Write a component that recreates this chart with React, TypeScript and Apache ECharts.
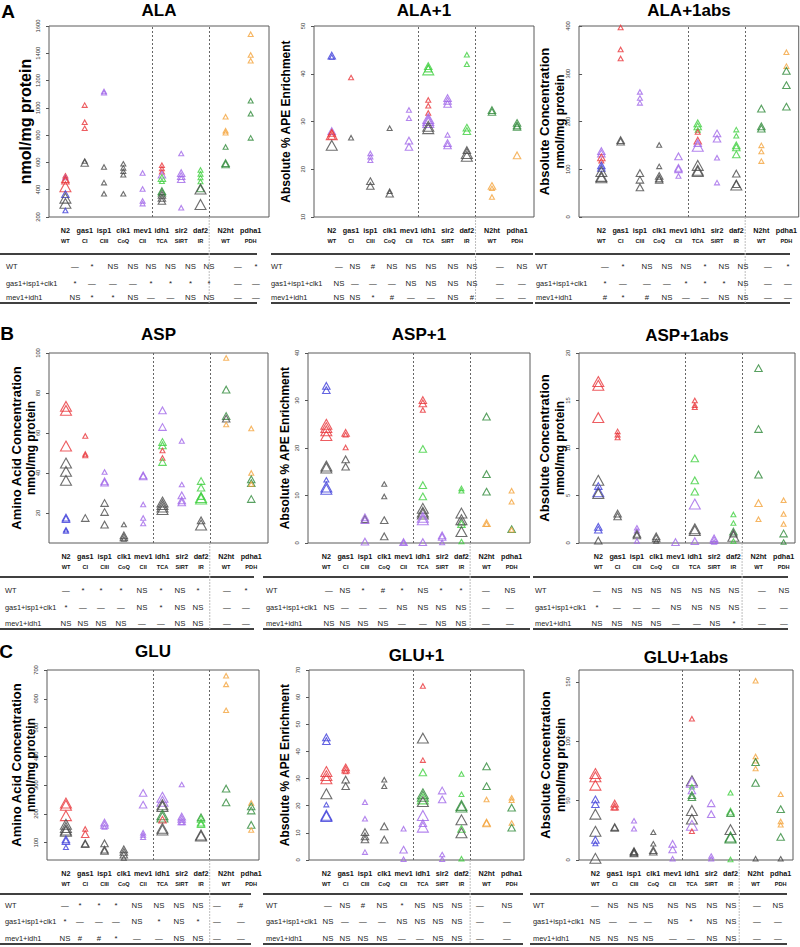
import React, { useEffect, useRef } from "react";
import * as echarts from "echarts";

// ---------- categories / labels ----------
const CATS = ["N2", "gas1", "isp1", "clk1", "mev1", "idh1", "sir2", "daf2", "N2ht", "pdha1"];
const SUBS = ["WT", "CI", "CIII", "CoQ", "CII", "TCA", "SIRT", "IR", "WT", "PDH"];
const XPOS = [1, 2, 3, 4, 5, 6, 7, 8, 9.3, 10.6];
const SEP = [5.5, 8.45];
const ROW_LABELS = ["WT", "gas1+isp1+clk1", "mev1+idh1"];

// ---------- y ticks ----------
const YT_ALA = [200, 400, 600, 800, 1000, 1200, 1400, 1600];
const YT_ALA1 = [10, 20, 30, 40, 50];
const YT_ALA1ABS = [0, 100, 200, 300, 400];
const YT_ASP = [20, 40, 60, 80, 100];
const YT_ASP1 = [0, 10, 20, 30, 40];
const YT_ASP1ABS = [0, 5, 10, 15, 20];
const YT_GLU = [100, 200, 300, 400, 500, 600, 700];
const YT_GLU1 = [0, 10, 20, 30, 40, 50, 60, 70];
const YT_GLU1ABS = [0, 50, 100, 150];

// ---------- points: [category, value, sizeClass(1..3), colorKey] ----------
type Pt = [string, number, number, string];

const ALA_PTS: Pt[] = [
  ["N2", 502, 1, "r"], ["N2", 490, 1, "p"], ["N2", 478, 2, "r"], ["N2", 466, 2, "r"], ["N2", 422, 3, "r"], ["N2", 368, 2, "b"], ["N2", 338, 3, "k"], ["N2", 300, 3, "k"], ["N2", 248, 1, "b"],
  ["gas1", 1020, 1, "r"], ["gas1", 895, 1, "r"], ["gas1", 850, 1, "r"], ["gas1", 610, 1, "k"], ["gas1", 596, 2, "k"],
  ["isp1", 1120, 1, "p"], ["isp1", 1110, 1, "p"], ["isp1", 567, 1, "k"], ["isp1", 452, 1, "k"], ["isp1", 371, 1, "k"],
  ["clk1", 590, 1, "k"], ["clk1", 560, 1, "k"], ["clk1", 535, 1, "k"], ["clk1", 510, 1, "k"], ["clk1", 370, 1, "k"],
  ["mev1", 523, 1, "p"], ["mev1", 405, 1, "p"], ["mev1", 318, 1, "p"], ["mev1", 298, 1, "p"],
  ["idh1", 580, 1, "r"], ["idh1", 555, 1, "r"], ["idh1", 532, 1, "r"], ["idh1", 510, 2, "p"], ["idh1", 485, 2, "g"], ["idh1", 462, 1, "g"], ["idh1", 390, 2, "d"], ["idh1", 378, 2, "d"], ["idh1", 362, 2, "k"], ["idh1", 340, 2, "k"], ["idh1", 318, 2, "k"],
  ["sir2", 665, 1, "p"], ["sir2", 522, 2, "p"], ["sir2", 500, 2, "p"], ["sir2", 478, 2, "p"], ["sir2", 268, 1, "p"],
  ["daf2", 545, 1, "g"], ["daf2", 515, 1, "g"], ["daf2", 490, 1, "g"], ["daf2", 460, 1, "g"], ["daf2", 410, 2, "d"], ["daf2", 405, 3, "k"], ["daf2", 292, 3, "k"],
  ["N2ht", 935, 1, "o"], ["N2ht", 832, 1, "o"], ["N2ht", 818, 1, "o"], ["N2ht", 713, 1, "d"], ["N2ht", 595, 2, "d"], ["N2ht", 585, 2, "d"],
  ["pdha1", 1540, 1, "o"], ["pdha1", 1388, 1, "o"], ["pdha1", 1345, 1, "o"], ["pdha1", 1052, 1, "d"], ["pdha1", 957, 1, "d"], ["pdha1", 780, 1, "d"],
];

const ALA1_PTS: Pt[] = [
  ["N2", 43.8, 2, "b"], ["N2", 43.5, 1, "b"], ["N2", 28.0, 2, "p"], ["N2", 27.6, 2, "r"], ["N2", 27.2, 3, "r"], ["N2", 27.0, 2, "r"], ["N2", 25.0, 3, "k"],
  ["gas1", 39.2, 1, "r"], ["gas1", 26.6, 1, "k"],
  ["isp1", 23.3, 1, "p"], ["isp1", 22.6, 1, "p"], ["isp1", 21.9, 1, "p"], ["isp1", 17.5, 2, "k"], ["isp1", 16.5, 2, "k"],
  ["clk1", 28.6, 1, "k"], ["clk1", 15.4, 1, "k"], ["clk1", 14.9, 2, "k"],
  ["mev1", 32.4, 1, "p"], ["mev1", 30.7, 1, "p"], ["mev1", 26.0, 2, "p"], ["mev1", 24.7, 2, "p"],
  ["idh1", 41.6, 2, "g"], ["idh1", 41.1, 2, "g"], ["idh1", 40.8, 3, "g"], ["idh1", 34.5, 1, "r"], ["idh1", 33.3, 1, "r"], ["idh1", 31.8, 1, "r"], ["idh1", 30.6, 3, "p"], ["idh1", 30.2, 3, "p"], ["idh1", 29.8, 3, "p"], ["idh1", 29.0, 3, "k"], ["idh1", 28.5, 3, "k"],
  ["sir2", 34.9, 2, "p"], ["sir2", 34.3, 2, "p"], ["sir2", 33.7, 2, "p"], ["sir2", 27.2, 1, "p"], ["sir2", 25.5, 2, "p"], ["sir2", 25.0, 2, "p"],
  ["daf2", 44.0, 1, "g"], ["daf2", 42.0, 1, "g"], ["daf2", 28.7, 2, "g"], ["daf2", 28.0, 2, "g"], ["daf2", 24.0, 2, "k"], ["daf2", 23.3, 3, "k"], ["daf2", 22.7, 3, "k"],
  ["N2ht", 32.4, 2, "d"], ["N2ht", 32.0, 2, "d"], ["N2ht", 16.5, 2, "o"], ["N2ht", 16.0, 1, "o"], ["N2ht", 14.2, 1, "o"],
  ["pdha1", 29.7, 2, "d"], ["pdha1", 29.2, 2, "d"], ["pdha1", 28.9, 2, "d"], ["pdha1", 22.9, 2, "o"],
];

const ALA1ABS_PTS: Pt[] = [
  ["N2", 138, 2, "p"], ["N2", 133, 2, "p"], ["N2", 125, 2, "r"], ["N2", 118, 1, "r"], ["N2", 108, 2, "b"], ["N2", 103, 2, "b"], ["N2", 95, 3, "k"], ["N2", 85, 3, "k"], ["N2", 82, 3, "k"],
  ["gas1", 397, 1, "r"], ["gas1", 351, 1, "r"], ["gas1", 332, 1, "r"], ["gas1", 161, 2, "k"], ["gas1", 158, 2, "k"],
  ["isp1", 262, 1, "p"], ["isp1", 249, 1, "p"], ["isp1", 239, 1, "p"], ["isp1", 92, 2, "k"], ["isp1", 78, 2, "k"], ["isp1", 62, 2, "k"],
  ["clk1", 151, 1, "k"], ["clk1", 106, 1, "k"], ["clk1", 86, 2, "k"], ["clk1", 81, 2, "k"], ["clk1", 78, 2, "k"],
  ["mev1", 127, 2, "p"], ["mev1", 103, 2, "p"], ["mev1", 100, 2, "p"], ["mev1", 86, 1, "p"],
  ["idh1", 196, 2, "g"], ["idh1", 190, 2, "g"], ["idh1", 182, 1, "g"], ["idh1", 178, 1, "r"], ["idh1", 160, 2, "r"], ["idh1", 155, 2, "p"], ["idh1", 148, 3, "p"], ["idh1", 108, 3, "k"], ["idh1", 98, 3, "k"], ["idh1", 95, 3, "k"],
  ["sir2", 175, 2, "p"], ["sir2", 164, 2, "p"], ["sir2", 124, 1, "p"], ["sir2", 72, 1, "p"],
  ["daf2", 183, 1, "g"], ["daf2", 170, 1, "g"], ["daf2", 150, 2, "g"], ["daf2", 146, 2, "g"], ["daf2", 131, 2, "g"], ["daf2", 91, 2, "k"], ["daf2", 69, 2, "k"], ["daf2", 67, 3, "k"],
  ["N2ht", 227, 2, "d"], ["N2ht", 190, 2, "d"], ["N2ht", 185, 2, "d"], ["N2ht", 150, 1, "o"], ["N2ht", 137, 1, "o"], ["N2ht", 117, 1, "o"],
  ["pdha1", 345, 1, "o"], ["pdha1", 316, 1, "o"], ["pdha1", 306, 2, "d"], ["pdha1", 276, 2, "d"], ["pdha1", 231, 2, "d"],
];

const ASP_PTS: Pt[] = [
  ["N2", 73.3, 3, "r"], ["N2", 71.3, 3, "r"], ["N2", 53.5, 3, "r"], ["N2", 45.0, 3, "k"], ["N2", 40.8, 3, "k"], ["N2", 36.3, 3, "k"], ["N2", 17.7, 2, "b"], ["N2", 17.0, 2, "b"], ["N2", 11.6, 1, "b"], ["N2", 11.0, 1, "b"],
  ["gas1", 58.5, 1, "r"], ["gas1", 49.5, 1, "r"], ["gas1", 48.8, 1, "r"], ["gas1", 17.5, 2, "k"],
  ["isp1", 40.5, 1, "p"], ["isp1", 35.8, 2, "p"], ["isp1", 35.2, 2, "p"], ["isp1", 25.0, 2, "k"], ["isp1", 20.5, 2, "k"], ["isp1", 14.2, 2, "k"],
  ["clk1", 14.2, 1, "k"], ["clk1", 8.8, 2, "k"], ["clk1", 7.8, 2, "k"], ["clk1", 7.0, 1, "k"],
  ["mev1", 38.8, 2, "p"], ["mev1", 38.3, 2, "p"], ["mev1", 24.3, 1, "p"], ["mev1", 17.5, 1, "p"], ["mev1", 14.7, 1, "p"],
  ["idh1", 71.3, 2, "p"], ["idh1", 63.0, 2, "p"], ["idh1", 55.5, 2, "g"], ["idh1", 53.8, 2, "g"], ["idh1", 51.3, 1, "r"], ["idh1", 47.5, 1, "r"], ["idh1", 45.5, 2, "g"], ["idh1", 25.5, 3, "k"], ["idh1", 24.2, 3, "k"], ["idh1", 23.0, 3, "k"], ["idh1", 21.7, 3, "k"],
  ["sir2", 56.0, 1, "p"], ["sir2", 34.2, 1, "p"], ["sir2", 28.8, 2, "p"], ["sir2", 26.3, 2, "p"], ["sir2", 25.3, 2, "p"],
  ["daf2", 36.0, 2, "g"], ["daf2", 32.7, 2, "g"], ["daf2", 28.5, 2, "g"], ["daf2", 27.7, 3, "g"], ["daf2", 27.0, 3, "g"], ["daf2", 16.3, 2, "k"], ["daf2", 14.0, 3, "k"],
  ["N2ht", 97.5, 1, "o"], ["N2ht", 81.7, 2, "d"], ["N2ht", 68.5, 2, "d"], ["N2ht", 67.2, 2, "k"], ["N2ht", 64.2, 1, "o"],
  ["pdha1", 62.3, 1, "o"], ["pdha1", 40.0, 1, "o"], ["pdha1", 36.8, 2, "d"], ["pdha1", 34.9, 2, "d"], ["pdha1", 34.5, 1, "o"], ["pdha1", 27.0, 2, "d"],
];

const ASP1_PTS: Pt[] = [
  ["N2", 33.1, 2, "b"], ["N2", 32.2, 2, "b"], ["N2", 25.0, 3, "r"], ["N2", 24.3, 3, "r"], ["N2", 23.6, 3, "r"], ["N2", 22.6, 3, "r"], ["N2", 16.2, 3, "k"], ["N2", 15.8, 3, "k"], ["N2", 13.3, 1, "b"], ["N2", 11.8, 3, "b"], ["N2", 11.3, 3, "b"],
  ["gas1", 23.2, 2, "r"], ["gas1", 22.8, 1, "r"], ["gas1", 20.1, 1, "r"], ["gas1", 17.6, 2, "k"], ["gas1", 16.1, 2, "k"],
  ["isp1", 5.4, 2, "p"], ["isp1", 5.0, 2, "k"], ["isp1", 4.8, 2, "p"], ["isp1", 0.3, 2, "p"],
  ["clk1", 12.4, 1, "k"], ["clk1", 9.8, 1, "k"], ["clk1", 4.8, 2, "k"], ["clk1", 1.4, 2, "k"],
  ["mev1", 0.2, 2, "p"], ["mev1", 0.1, 1, "p"],
  ["idh1", 30.1, 2, "r"], ["idh1", 29.4, 2, "r"], ["idh1", 28.0, 1, "r"], ["idh1", 19.8, 2, "g"], ["idh1", 12.2, 2, "g"], ["idh1", 9.8, 2, "g"], ["idh1", 7.3, 3, "k"], ["idh1", 6.5, 3, "k"], ["idh1", 6.1, 3, "k"], ["idh1", 5.4, 3, "p"], ["idh1", 4.9, 3, "p"], ["idh1", 0.2, 2, "p"],
  ["sir2", 1.6, 2, "p"], ["sir2", 1.3, 2, "p"], ["sir2", 0.1, 1, "p"],
  ["daf2", 11.5, 1, "g"], ["daf2", 11.0, 1, "g"], ["daf2", 6.3, 3, "k"], ["daf2", 4.9, 3, "k"], ["daf2", 4.5, 2, "k"], ["daf2", 4.0, 2, "g"], ["daf2", 2.4, 3, "k"], ["daf2", 0.3, 1, "g"],
  ["N2ht", 26.6, 2, "d"], ["N2ht", 14.5, 2, "d"], ["N2ht", 10.8, 2, "d"], ["N2ht", 4.2, 2, "o"], ["N2ht", 4.0, 1, "o"],
  ["pdha1", 11.0, 1, "o"], ["pdha1", 8.7, 1, "o"], ["pdha1", 2.9, 2, "d"], ["pdha1", 2.8, 1, "o"],
];

const ASP1ABS_PTS: Pt[] = [
  ["N2", 17.0, 3, "r"], ["N2", 16.6, 3, "r"], ["N2", 13.2, 3, "r"], ["N2", 6.6, 3, "k"], ["N2", 6.0, 2, "b"], ["N2", 5.4, 3, "b"], ["N2", 5.2, 3, "k"], ["N2", 1.7, 2, "b"], ["N2", 1.4, 2, "b"], ["N2", 0.25, 2, "k"],
  ["gas1", 11.75, 1, "r"], ["gas1", 11.4, 1, "r"], ["gas1", 11.1, 1, "r"], ["gas1", 3.1, 2, "k"], ["gas1", 2.8, 2, "k"],
  ["isp1", 1.6, 1, "p"], ["isp1", 1.3, 1, "p"], ["isp1", 0.95, 2, "k"], ["isp1", 0.8, 2, "k"], ["isp1", 0.2, 1, "p"],
  ["clk1", 0.7, 2, "k"], ["clk1", 0.5, 2, "k"], ["clk1", 0.2, 1, "k"],
  ["mev1", 0.1, 2, "p"],
  ["idh1", 15.0, 1, "r"], ["idh1", 14.5, 1, "r"], ["idh1", 14.3, 1, "r"], ["idh1", 8.9, 2, "g"], ["idh1", 6.6, 2, "g"], ["idh1", 5.4, 2, "g"], ["idh1", 4.1, 3, "p"], ["idh1", 1.5, 3, "k"], ["idh1", 1.3, 3, "k"], ["idh1", 0.2, 2, "p"],
  ["sir2", 0.5, 2, "p"], ["sir2", 0.3, 2, "p"], ["sir2", 0.1, 1, "p"],
  ["daf2", 3.0, 1, "g"], ["daf2", 2.1, 1, "g"], ["daf2", 1.2, 2, "d"], ["daf2", 1.0, 2, "k"], ["daf2", 0.7, 3, "k"], ["daf2", 0.2, 1, "g"],
  ["N2ht", 18.4, 2, "d"], ["N2ht", 12.0, 2, "d"], ["N2ht", 7.2, 2, "d"], ["N2ht", 4.2, 2, "o"], ["N2ht", 2.5, 1, "o"],
  ["pdha1", 4.5, 1, "o"], ["pdha1", 3.05, 1, "o"], ["pdha1", 2.0, 1, "o"], ["pdha1", 1.0, 2, "d"], ["pdha1", 0.1, 1, "d"],
];

const GLU_PTS: Pt[] = [
  ["N2", 238, 3, "r"], ["N2", 230, 3, "r"], ["N2", 194, 3, "r"], ["N2", 164, 3, "k"], ["N2", 153, 3, "k"], ["N2", 144, 3, "k"], ["N2", 140, 3, "k"], ["N2", 112, 2, "b"], ["N2", 106, 2, "b"], ["N2", 84, 1, "b"],
  ["gas1", 148, 1, "r"], ["gas1", 130, 2, "r"], ["gas1", 98, 2, "k"], ["gas1", 95, 2, "k"],
  ["isp1", 170, 2, "p"], ["isp1", 162, 2, "p"], ["isp1", 155, 1, "p"], ["isp1", 98, 2, "k"], ["isp1", 76, 2, "k"], ["isp1", 72, 2, "k"],
  ["clk1", 77, 2, "k"], ["clk1", 68, 2, "k"], ["clk1", 59, 2, "k"], ["clk1", 47, 1, "k"],
  ["mev1", 273, 2, "p"], ["mev1", 232, 2, "p"], ["mev1", 135, 1, "p"], ["mev1", 127, 1, "p"], ["mev1", 119, 1, "p"],
  ["idh1", 258, 3, "p"], ["idh1", 244, 3, "p"], ["idh1", 232, 3, "k"], ["idh1", 226, 3, "k"], ["idh1", 197, 3, "d"], ["idh1", 189, 3, "d"], ["idh1", 180, 2, "r"], ["idh1", 150, 3, "k"], ["idh1", 144, 3, "k"],
  ["sir2", 302, 1, "p"], ["sir2", 191, 2, "p"], ["sir2", 183, 2, "p"], ["sir2", 174, 2, "p"], ["sir2", 170, 1, "p"],
  ["daf2", 188, 2, "d"], ["daf2", 183, 2, "g"], ["daf2", 170, 2, "g"], ["daf2", 165, 2, "g"], ["daf2", 127, 3, "k"], ["daf2", 123, 3, "k"],
  ["N2ht", 680, 1, "o"], ["N2ht", 650, 1, "o"], ["N2ht", 560, 1, "o"], ["N2ht", 288, 2, "d"], ["N2ht", 240, 2, "d"],
  ["pdha1", 238, 1, "o"], ["pdha1", 226, 2, "d"], ["pdha1", 212, 2, "d"], ["pdha1", 162, 2, "d"], ["pdha1", 144, 1, "o"],
];

const GLU1_PTS: Pt[] = [
  ["N2", 45.2, 2, "b"], ["N2", 43.8, 2, "b"], ["N2", 32.6, 3, "r"], ["N2", 31.1, 3, "r"], ["N2", 29.9, 3, "r"], ["N2", 24.4, 3, "k"], ["N2", 20.4, 1, "b"], ["N2", 16.5, 3, "b"], ["N2", 16.0, 3, "b"],
  ["gas1", 34.1, 2, "r"], ["gas1", 33.3, 2, "r"], ["gas1", 32.6, 1, "r"], ["gas1", 29.6, 2, "k"], ["gas1", 27.2, 2, "k"],
  ["isp1", 21.3, 1, "p"], ["isp1", 15.2, 1, "p"], ["isp1", 10.3, 2, "k"], ["isp1", 8.7, 2, "k"], ["isp1", 7.6, 2, "k"], ["isp1", 2.9, 1, "p"],
  ["clk1", 29.6, 1, "k"], ["clk1", 27.2, 1, "k"], ["clk1", 12.4, 2, "k"], ["clk1", 7.5, 2, "k"],
  ["mev1", 11.5, 1, "p"], ["mev1", 3.8, 2, "p"], ["mev1", 0.3, 1, "p"],
  ["idh1", 64.1, 1, "r"], ["idh1", 44.9, 3, "k"], ["idh1", 36.8, 1, "r"], ["idh1", 32.3, 2, "g"], ["idh1", 24.4, 3, "d"], ["idh1", 23.5, 3, "d"], ["idh1", 22.5, 3, "g"], ["idh1", 21.5, 3, "k"], ["idh1", 16.4, 3, "p"], ["idh1", 13.6, 2, "p"], ["idh1", 12.1, 3, "p"],
  ["sir2", 25.6, 2, "p"], ["sir2", 22.3, 2, "p"], ["sir2", 2.0, 1, "p"], ["sir2", 0.3, 1, "p"],
  ["daf2", 31.7, 1, "g"], ["daf2", 24.2, 1, "g"], ["daf2", 20.1, 3, "d"], ["daf2", 19.5, 3, "d"], ["daf2", 14.8, 3, "k"], ["daf2", 11.5, 2, "g"], ["daf2", 10.0, 3, "k"], ["daf2", 0.5, 1, "g"],
  ["N2ht", 34.5, 2, "d"], ["N2ht", 27.2, 2, "d"], ["N2ht", 22.3, 1, "o"], ["N2ht", 13.8, 2, "o"], ["N2ht", 13.5, 2, "o"],
  ["pdha1", 22.9, 1, "o"], ["pdha1", 22.0, 1, "o"], ["pdha1", 19.3, 2, "d"], ["pdha1", 13.6, 1, "o"], ["pdha1", 11.9, 2, "d"],
];

const GLU1ABS_PTS: Pt[] = [
  ["N2", 72.8, 3, "r"], ["N2", 70.0, 3, "r"], ["N2", 63.0, 3, "r"], ["N2", 51.0, 2, "b"], ["N2", 47.0, 2, "b"], ["N2", 38.6, 3, "k"], ["N2", 24.2, 3, "k"], ["N2", 17.0, 2, "b"], ["N2", 13.9, 1, "b"], ["N2", 1.4, 3, "k"],
  ["gas1", 47.5, 2, "r"], ["gas1", 45.0, 2, "r"], ["gas1", 44.0, 1, "r"], ["gas1", 27.8, 2, "k"], ["gas1", 27.0, 2, "k"],
  ["isp1", 33.0, 1, "p"], ["isp1", 26.4, 1, "p"], ["isp1", 7.5, 2, "k"], ["isp1", 6.8, 2, "k"], ["isp1", 6.2, 2, "k"], ["isp1", 5.6, 2, "k"],
  ["clk1", 23.3, 1, "k"], ["clk1", 13.6, 1, "k"], ["clk1", 8.3, 2, "k"], ["clk1", 7.0, 2, "k"],
  ["mev1", 13.6, 2, "p"], ["mev1", 8.9, 2, "p"], ["mev1", 1.1, 1, "p"],
  ["idh1", 119, 1, "r"], ["idh1", 66.7, 3, "k"], ["idh1", 65.5, 3, "p"], ["idh1", 61.7, 1, "g"], ["idh1", 58.6, 2, "p"], ["idh1", 54.7, 2, "d"], ["idh1", 53.0, 2, "d"], ["idh1", 41.7, 3, "k"], ["idh1", 34.4, 3, "k"], ["idh1", 29.2, 3, "p"], ["idh1", 24.2, 1, "r"],
  ["sir2", 47.8, 2, "p"], ["sir2", 38.6, 2, "p"], ["sir2", 3.3, 1, "p"], ["sir2", 1.0, 1, "p"],
  ["daf2", 56.7, 1, "g"], ["daf2", 40.8, 2, "g"], ["daf2", 39.5, 2, "d"], ["daf2", 25.6, 3, "k"], ["daf2", 19.4, 3, "d"], ["daf2", 18.5, 3, "d"], ["daf2", 0.5, 1, "g"],
  ["N2ht", 151, 1, "o"], ["N2ht", 87.2, 1, "o"], ["N2ht", 83.5, 1, "o"], ["N2ht", 82.5, 2, "d"], ["N2ht", 77.0, 1, "o"], ["N2ht", 65.0, 2, "d"], ["N2ht", 1.1, 1, "k"],
  ["pdha1", 55.3, 1, "o"], ["pdha1", 42.8, 2, "d"], ["pdha1", 32.5, 1, "o"], ["pdha1", 29.7, 1, "o"], ["pdha1", 19.4, 2, "d"], ["pdha1", 1.0, 1, "k"],
];

// ---------- significance tables (rows: WT, gas1+isp1+clk1, mev1+idh1) ----------
const ALA_TBL = [
  ["—", "*", "NS", "NS", "NS", "NS", "NS", "NS", "—", "*"],
  ["*", "—", "—", "—", "*", "*", "*", "*", "—", "—"],
  ["NS", "*", "*", "NS", "—", "—", "NS", "NS", "—", "—"],
];
const ALA1_TBL = [
  ["—", "NS", "#", "NS", "NS", "NS", "NS", "NS", "—", "NS"],
  ["NS", "—", "—", "—", "NS", "NS", "NS", "NS", "—", "—"],
  ["NS", "NS", "*", "#", "—", "—", "NS", "#", "—", "—"],
];
const ALA1ABS_TBL = [
  ["—", "*", "NS", "NS", "NS", "*", "NS", "NS", "—", "*"],
  ["*", "—", "—", "—", "*", "*", "*", "NS", "—", "—"],
  ["#", "*", "#", "NS", "—", "—", "NS", "NS", "—", "—"],
];
const ASP_TBL = [
  ["—", "*", "*", "*", "NS", "*", "NS", "*", "—", "*"],
  ["*", "—", "—", "—", "NS", "*", "NS", "NS", "—", "—"],
  ["NS", "NS", "NS", "NS", "—", "—", "NS", "NS", "—", "—"],
];
const ASP1_TBL = [
  ["—", "NS", "*", "#", "*", "NS", "*", "*", "—", "NS"],
  ["NS", "—", "—", "—", "NS", "NS", "NS", "NS", "—", "—"],
  ["NS", "NS", "NS", "NS", "—", "—", "NS", "NS", "—", "—"],
];
const ASP1ABS_TBL = [
  ["—", "NS", "NS", "NS", "NS", "NS", "NS", "NS", "—", "NS"],
  ["*", "—", "—", "—", "NS", "NS", "NS", "NS", "—", "—"],
  ["NS", "NS", "NS", "NS", "—", "—", "NS", "*", "—", "—"],
];
const GLU_TBL = [
  ["—", "*", "*", "*", "NS", "NS", "NS", "NS", "—", "#"],
  ["*", "—", "—", "—", "NS", "*", "NS", "*", "—", "—"],
  ["NS", "#", "#", "*", "—", "—", "NS", "NS", "—", "—"],
];
const GLU1_TBL = [
  ["—", "NS", "#", "NS", "*", "NS", "NS", "NS", "—", "NS"],
  ["NS", "—", "—", "—", "NS", "NS", "NS", "NS", "—", "—"],
  ["NS", "NS", "NS", "NS", "—", "—", "NS", "NS", "—", "—"],
];
const GLU1ABS_TBL = [
  ["—", "NS", "NS", "NS", "NS", "NS", "NS", "NS", "—", "NS"],
  ["NS", "—", "—", "—", "NS", "*", "NS", "NS", "—", "—"],
  ["NS", "NS", "NS", "NS", "—", "—", "NS", "NS", "—", "—"],
];

// ---------- styling ----------
const COLORS: Record<string, string> = {
  b: "#3d3dd9", r: "#e8343a", p: "#a066e8", k: "#4a4a4a", g: "#3fcf3f", d: "#2f8a3a", o: "#f4a43c",
};
const SIZES = [0, 5, 7.5, 11];
const STEP = 19.3;
const FONT = "'Liberation Sans', Arial, Helvetica, sans-serif";

type Row = { top: number; bottom: number; tTop: number; tRows: number[]; tBot: number };
const ROW_A: Row = { top: 26, bottom: 217, tTop: 254, tRows: [266, 283, 297], tBot: 303 };
const ROW_B: Row = { top: 353, bottom: 543, tTop: 577, tRows: [590, 607, 623], tBot: 629 };
const ROW_C: Row = { top: 670, bottom: 860, tTop: 894, tRows: [905, 921.5, 938], tBot: 944 };

const PANELS = [
  { title: "ALA", pts: ALA_PTS, tbl: ALA_TBL, yr: [200, 1600], yt: YT_ALA, row: ROW_A, left: 49, width: 220, xmin: 0.15,
    ytitle: ["nmol/mg protein"], ytx: [25], ytf: [16], tx: [0, 257], tlx: 6, tcols: [75, 92, 113, 133, 151, 170.5, 190.5, 209, 238, 256], ty: 10 },
  { title: "ALA+1", pts: ALA1_PTS, tbl: ALA1_TBL, yr: [10, 50], yt: YT_ALA1, row: ROW_A, left: 314, width: 220, xmin: 0.08,
    ytitle: ["Absolute % APE Enrichment"], ytx: [286], ytf: [12], tx: [271, 533], tlx: 271, tcols: [339, 355, 373, 392, 411, 431, 453, 472, 500, 522], ty: 10 },
  { title: "ALA+1abs", pts: ALA1ABS_PTS, tbl: ALA1ABS_TBL, yr: [0, 400], yt: YT_ALA1ABS, row: ROW_A, left: 579, width: 220, xmin: -0.16,
    ytitle: ["Absolute Concentration", "nmol/mg protein"], ytx: [544, 560], ytf: [13, 12], tx: [535, 790], tlx: 536, tcols: [605, 623, 647, 667, 686, 705, 724, 743, 768, 788], ty: 10 },
  { title: "ASP", pts: ASP_PTS, tbl: ASP_TBL, yr: [5, 100], yt: YT_ASP, row: ROW_B, left: 49, width: 219, xmin: 0.12,
    ytitle: ["Amino Acid Concentration", "nmol/mg protein"], ytx: [16.5, 31], ytf: [13, 12], tx: [0, 254], tlx: 5, tcols: [66, 83, 101, 121, 142, 161, 180, 198, 227, 246], ty: 334 },
  { title: "ASP+1", pts: ASP1_PTS, tbl: ASP1_TBL, yr: [0, 40], yt: YT_ASP1, row: ROW_B, left: 308, width: 222, xmin: 0.05,
    ytitle: ["Absolute % APE Enrichment"], ytx: [285], ytf: [12], tx: [263, 530], tlx: 266, tcols: [329, 345, 363, 383, 402, 423, 441, 461, 486, 510], ty: 334 },
  { title: "ASP+1abs", pts: ASP1ABS_PTS, tbl: ASP1ABS_TBL, yr: [0, 20], yt: YT_ASP1ABS, row: ROW_B, left: 579, width: 216, xmin: 0.0,
    ytitle: ["Absolute Concentration", "nmol/mg protein"], ytx: [544, 560], ytf: [13, 12], tx: [533, 788], tlx: 535, tcols: [597, 617, 637, 656, 676, 697, 715, 734, 762, 784], ty: 335 },
  { title: "GLU", pts: GLU_PTS, tbl: GLU_TBL, yr: [40, 700], yt: YT_GLU, row: ROW_C, left: 47, width: 212, xmin: 0.02,
    ytitle: ["Amino Acid Concentration", "nmol/mg protein"], ytx: [16, 31], ytf: [13, 12], tx: [0, 251], tlx: 5, tcols: [65, 80, 99, 116, 137, 159, 179, 198, 217, 241], ty: 651 },
  { title: "GLU+1", pts: GLU1_PTS, tbl: GLU1_TBL, yr: [0, 70], yt: YT_GLU1, row: ROW_C, left: 309, width: 215, xmin: 0.1,
    ytitle: ["Absolute % APE Enrichment"], ytx: [285], ytf: [12], tx: [263, 523], tlx: 266, tcols: [328, 345, 363, 382, 402, 420, 438, 457, 480, 507], ty: 655 },
  { title: "GLU+1abs", pts: GLU1ABS_PTS, tbl: GLU1ABS_TBL, yr: [0, 160], yt: YT_GLU1ABS, row: ROW_C, left: 579, width: 214, xmin: 0.15,
    ytitle: ["Absolute Concentration", "nmol/mg protein"], ytx: [545, 561], ytf: [13, 12], tx: [530, 787], tlx: 533, tcols: [595, 613, 633, 648, 673, 691, 712, 731, 757, 778], ty: 657 },
];

const LETTERS: [string, number, number][] = [["A", 8, 11], ["B", 7, 333], ["C", 6, 651]];

function nearestIdx(v: number) {
  let best = 0;
  XPOS.forEach((x, i) => { if (Math.abs(x - v) < Math.abs(XPOS[best] - v)) best = i; });
  return best;
}

function buildOption() {
  const grid: any[] = [], xAxis: any[] = [], yAxis: any[] = [], series: any[] = [], els: any[] = [];
  PANELS.forEach((P, i) => {
    const R = P.row;
    const h = R.bottom - R.top;
    grid.push({ left: P.left, top: R.top, width: P.width, height: h, show: true, borderColor: "#5a5a5a", borderWidth: 1 });
    xAxis.push({
      type: "value", gridIndex: i, min: P.xmin, max: P.xmin + P.width / STEP,
      axisLine: { show: false }, axisTick: { show: false }, splitLine: { show: false },
      axisLabel: {
        customValues: XPOS, margin: 7.5,
        formatter: (v: number) => { const k = nearestIdx(v); return `{a|${CATS[k]}}\n{b|${SUBS[k]}}`; },
        rich: {
          a: { fontSize: 7.2, fontWeight: "bold", lineHeight: 11, fontFamily: FONT, color: "#111" },
          b: { fontSize: 5.6, fontWeight: "bold", lineHeight: 11, fontFamily: FONT, color: "#111" },
        },
      },
    });
    yAxis.push({
      type: "value", gridIndex: i, min: P.yr[0], max: P.yr[1],
      axisLine: { show: false }, splitLine: { show: false },
      axisTick: { show: true, customValues: P.yt, length: 3, lineStyle: { color: "#555" } },
      axisLabel: { customValues: P.yt, rotate: 90, fontSize: 5.8, margin: 8, color: "#333", fontFamily: FONT, formatter: (v: number) => String(v) },
    });
    series.push({
      type: "scatter", xAxisIndex: i, yAxisIndex: i, symbol: "triangle",
      data: P.pts.map(([c, v, s, col]) => ({
        value: [XPOS[CATS.indexOf(c)], v],
        symbolSize: [SIZES[s], SIZES[s] * 0.9],
        itemStyle: { color: "rgba(0,0,0,0)", borderColor: COLORS[col], borderWidth: 1.1 },
      })),
      markLine: {
        silent: true, symbol: ["none", "none"], label: { show: false },
        lineStyle: { type: [2, 2], color: "#666", width: 1 },
        data: SEP.map((x) => ({ xAxis: x })),
      },
    });

    const cx = P.left + P.width / 2;
    els.push({ type: "text", x: cx, y: P.ty, style: { text: P.title, fontSize: 17, fontWeight: "bold", fontFamily: FONT, fill: "#000", align: "center", verticalAlign: "middle" } });
    const cy = (R.top + R.bottom) / 2;
    P.ytitle.forEach((t, k) => {
      els.push({ type: "text", x: P.ytx[k], y: cy, rotation: Math.PI / 2, style: { text: t, fontSize: P.ytf[k], fontWeight: "bold", fontFamily: FONT, fill: "#000", align: "center", verticalAlign: "middle" } });
    });
    // significance table
    els.push({ type: "line", shape: { x1: P.tx[0], y1: R.tTop, x2: P.tx[1], y2: R.tTop }, style: { stroke: "#000", lineWidth: 1.6 } });
    els.push({ type: "line", shape: { x1: P.tx[0], y1: R.tBot, x2: P.tx[1], y2: R.tBot }, style: { stroke: "#000", lineWidth: 1.3 } });
    const sx = P.left + (SEP[1] - P.xmin) * STEP;
    els.push({ type: "line", shape: { x1: sx, y1: R.bottom, x2: sx, y2: R.tBot }, style: { stroke: "#bdbdbd", lineWidth: 1, lineDash: [2, 1] } });
    ROW_LABELS.forEach((lab, r) => {
      els.push({ type: "text", x: P.tlx, y: R.tRows[r], style: { text: lab, fontSize: 7.4, fontFamily: FONT, fill: "#222", align: "left", verticalAlign: "middle" } });
      P.tbl[r].forEach((cell, c) => {
        els.push({ type: "text", x: P.tcols[c], y: R.tRows[r], style: { text: cell, fontSize: 7.8, fontFamily: FONT, fill: "#222", align: "center", verticalAlign: "middle" } });
      });
    });
  });
  LETTERS.forEach(([t, x, y]) => {
    els.push({ type: "text", x, y, style: { text: t, fontSize: 19, fontWeight: "bold", fontFamily: FONT, fill: "#000", align: "center", verticalAlign: "middle" } });
  });

  return {
    animation: false,
    backgroundColor: "#fff",
    textStyle: { fontFamily: FONT },
    grid, xAxis, yAxis, series,
    graphic: { elements: els },
  };
}

export default function App() {
  const ref = useRef<HTMLDivElement>(null);
  useEffect(() => {
    if (!ref.current) return;
    const chart = echarts.init(ref.current, undefined, { renderer: "svg" });
    chart.setOption(buildOption() as any);
    return () => chart.dispose();
  }, []);
  return <div ref={ref} style={{ position: "absolute", left: 0, top: 0, width: 800, height: 947, background: "#fff" }} />;
}
